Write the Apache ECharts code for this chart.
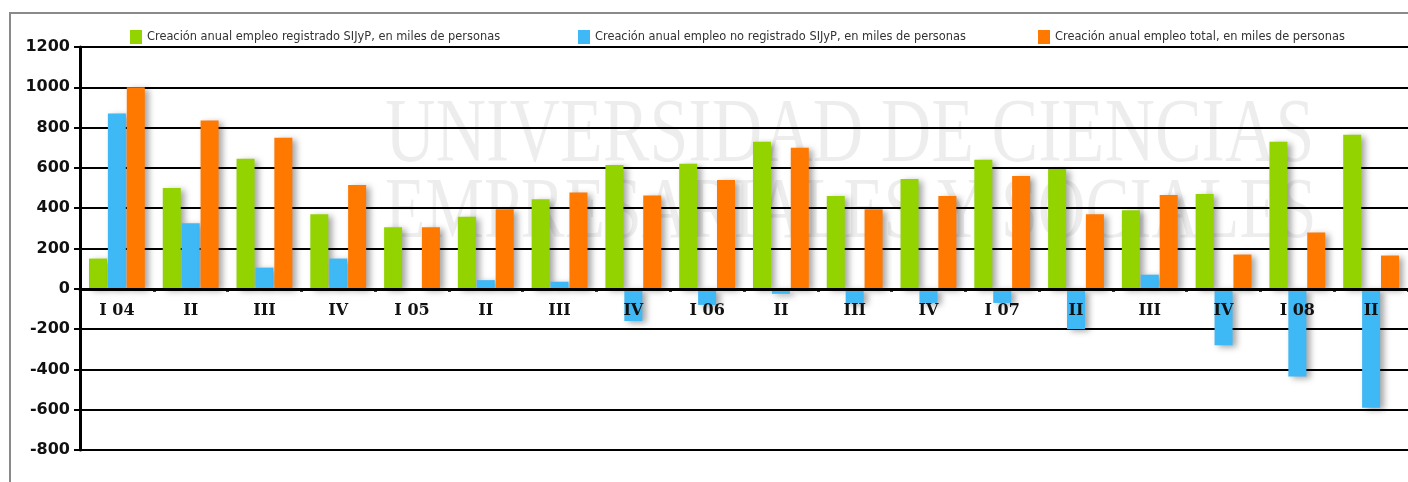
<!DOCTYPE html>
<html>
<head>
<meta charset="utf-8">
<script src="https://cdn.jsdelivr.net/npm/echarts@6/dist/echarts.min.js"></script>
<style>
  html, body { margin: 0; padding: 0; background: #fff; }
  #chart { width: 1408px; height: 482px; }
</style>
</head>
<body>
<div id="chart"></div>
<script>
// trimestres
const categories = ['I 04', 'II', 'III', 'IV', 'I 05', 'II', 'III', 'IV', 'I 06', 'II', 'III', 'IV', 'I 07', 'II', 'III', 'IV', 'I 08', 'II'];

const seriesNames = [
  'Creación anual empleo registrado SIJyP, en miles de personas',
  'Creación anual empleo no registrado SIJyP, en miles de personas',
  'Creación anual empleo total, en miles de personas'
];

// miles de personas
const registrado = [150, 500, 645, 370, 305, 357, 445, 615, 620, 730, 460, 545, 640, 595, 390, 470, 730, 765];
const noRegistrado = [870, 325, 105, 150, 0, 43, 35, -160, -80, -25, -70, -70, -70, -200, 70, -280, -435, -590];
const total = [1000, 835, 750, 515, 305, 395, 478, 463, 540, 700, 395, 460, 560, 370, 465, 170, 280, 165];

const colors = ['#93d400', '#3fb8f6', '#ff7800'];

const Y_MIN = -800;
const Y_MAX = 1200;
const GRID_TOP = 47;
const GRID_BOTTOM = 32;
const GRID_H = 482 - GRID_TOP - GRID_BOTTOM;
// distancia desde el borde inferior hasta la línea del cero
const zeroOffset = GRID_H * (0 - Y_MIN) / (Y_MAX - Y_MIN);

const chart = echarts.init(document.getElementById('chart'));

const barStyle = (color) => ({
  color: color,
  shadowColor: 'rgba(0, 0, 0, 0.35)',
  shadowBlur: 6,
  shadowOffsetX: 4,
  shadowOffsetY: 2
});

const legendBase = (name, left) => ({
  data: [name],
  left: left,
  top: 25,
  itemWidth: 12,
  itemHeight: 14,
  icon: 'rect',
  selectedMode: false,
  textStyle: { fontFamily: 'DejaVu Sans', fontSize: 11.4, color: '#333' }
});

const option = {
  animation: false,
  backgroundColor: '#fff',
  graphic: [
    {
      type: 'rect',
      shape: { x: 10, y: 13, width: 1420, height: 500 },
      style: { fill: 'none', stroke: '#8a8a8a', lineWidth: 2 },
      z: -10
    },
    {
      type: 'text',
      left: 385, top: 92,
      scaleY: 1.3,
      style: { text: 'UNIVERSIDAD DE CIENCIAS', font: '70px "Liberation Serif"', fill: 'rgba(0,0,0,0.07)' },
      z: -5
    },
    {
      type: 'text',
      left: 385, top: 172,
      scaleY: 1.3,
      style: { text: 'EMPRESARIALES Y SOCIALES', font: '66px "Liberation Serif"', fill: 'rgba(0,0,0,0.07)' },
      z: -5
    }
  ],
  legend: [
    legendBase(seriesNames[0], 125),
    legendBase(seriesNames[1], 573),
    legendBase(seriesNames[2], 1033)
  ],
  grid: {
    left: 80,
    right: -11,
    top: GRID_TOP,
    bottom: GRID_BOTTOM
  },
  xAxis: {
    type: 'category',
    data: categories,
    position: 'bottom',
    offset: -zeroOffset,
    z: 10,
    axisLine: { onZero: false, lineStyle: { color: '#000', width: 3 } },
    axisTick: { show: true, length: 3, lineStyle: { color: '#000', width: 3 } },
    axisLabel: {
      margin: 14,
      fontFamily: 'DejaVu Serif',
      fontWeight: 'bold',
      fontSize: 16,
      color: '#111'
    }
  },
  yAxis: {
    type: 'value',
    min: Y_MIN,
    max: Y_MAX,
    interval: 200,
    axisLine: { show: true, lineStyle: { color: '#000', width: 3 } },
    axisTick: { show: true, length: 6, lineStyle: { color: '#000', width: 2 } },
    axisLabel: {
      margin: 10,
      fontFamily: 'DejaVu Sans',
      fontWeight: 'bold',
      fontSize: 16,
      color: '#111',
      formatter: (v) => String(v)
    },
    splitLine: { lineStyle: { color: '#000', width: 2 } }
  },
  series: [
    { name: seriesNames[0], type: 'bar', data: registrado, barWidth: 18, barGap: '5%', itemStyle: barStyle(colors[0]) },
    { name: seriesNames[1], type: 'bar', data: noRegistrado, barWidth: 18, barGap: '5%', itemStyle: barStyle(colors[1]) },
    { name: seriesNames[2], type: 'bar', data: total, barWidth: 18, barGap: '5%', itemStyle: barStyle(colors[2]) }
  ]
};

chart.setOption(option);
</script>
</body>
</html>
